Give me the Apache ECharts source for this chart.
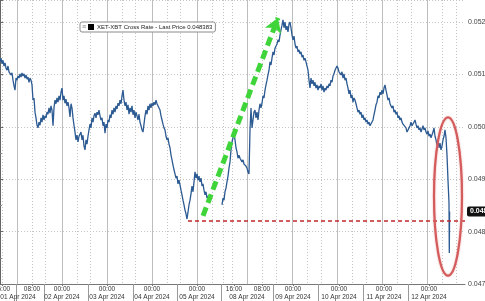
<!DOCTYPE html>
<html><head><meta charset="utf-8">
<script src="https://cdn.jsdelivr.net/npm/echarts@6/dist/echarts.min.js"></script>
<style>html,body{margin:0;padding:0;background:#fff;overflow:hidden}#c{width:485px;height:301px}</style>
</head><body><div id="c"></div><script>
// XET-XBT cross rate, one reading per chart time slot (slot 0 = left edge); null = no trading
const rate = [
0.05124,0.05131,0.05120,0.05127,0.05116,0.05122,0.05112,0.05108,0.05116,0.05105,
0.05108,0.05099,0.05103,0.05089,0.05078,0.05070,0.05093,0.05089,0.05097,0.05093,
0.05101,0.05095,0.05103,0.05097,0.05101,0.05093,0.05099,0.05091,0.05095,0.05085,
0.05093,0.05089,0.05080,0.05051,0.05055,0.05028,0.05017,0.05003,0.04998,0.05009,
0.05003,0.05017,0.05009,0.05023,0.05013,0.05021,0.05017,0.05028,0.05024,0.05036,
0.05026,0.05040,0.05032,0.05002,0.05036,0.05051,0.05044,0.05055,0.05047,0.05059,
0.05051,0.05066,0.05074,0.05051,0.05059,0.05045,0.05053,0.05040,0.05047,0.05036,
0.05019,0.05044,0.05036,0.05017,0.05003,0.04990,0.04975,0.04984,0.04971,0.04982,
0.04979,0.04990,0.04975,0.04984,0.04963,0.04956,0.04975,0.04967,0.04982,0.04994,
0.05005,0.04998,0.05017,0.05009,0.05021,0.05026,0.05017,0.05028,0.05023,0.05032,
0.05021,0.05013,0.05017,0.05002,0.05009,0.04988,0.05005,0.04998,0.05013,0.05009,
0.05023,0.05017,0.05032,0.05024,0.05036,0.05028,0.05040,0.05034,0.05045,0.05040,
0.05051,0.05044,0.05059,0.05070,0.05051,0.05040,0.05047,0.05032,0.05042,0.05024,
0.05036,0.05028,0.05040,0.05023,0.05032,0.05017,0.05028,0.05021,0.05013,0.05024,
0.05009,0.05002,0.04994,0.04990,0.05005,0.05021,0.05032,0.05024,0.05040,0.05032,
0.05044,0.05036,0.05045,0.05040,0.05047,0.05042,0.05051,0.05044,0.05047,0.05036,
0.05032,0.05021,0.05013,0.05005,0.04998,0.04994,0.04982,0.04975,0.04979,0.04967,
0.04960,0.04946,0.04937,0.04927,0.04918,0.04910,0.04902,0.04906,0.04891,0.04898,
0.04889,0.04879,0.04870,0.04860,0.04851,0.04841,0.04834,0.04824,0.04837,0.04851,
0.04860,0.04872,0.04887,0.04876,0.04895,0.04914,0.04902,0.04910,0.04898,0.04906,
0.04895,0.04902,0.04887,0.04891,0.04879,0.04870,0.04876,0.04864,0.04868,0.04860,
null,null,null,null,null,null,null,null,null,null,
null,null,0.04851,0.04864,0.04860,0.04876,0.04883,0.04895,0.04906,0.04921,
0.04933,0.04956,0.04971,0.04979,0.04984,0.04975,0.04960,0.04952,0.04940,0.04946,
0.04940,0.04942,0.04933,0.04937,0.04929,0.04931,0.04925,0.04921,0.04914,0.04910,
0.04994,0.05036,0.04998,0.05013,0.05028,0.05032,0.05017,0.05028,0.05013,0.05032,
0.05044,0.05036,0.05045,0.05059,0.05055,0.05070,0.05080,0.05089,0.05099,0.05108,
0.05124,0.05118,0.05131,0.05143,0.05137,0.05150,0.05147,0.05158,0.05166,0.05162,
0.05175,0.05185,0.05194,0.05204,0.05189,0.05200,0.05185,0.05192,0.05181,0.05196,
0.05200,0.05189,0.05175,0.05166,0.05173,0.05158,0.05150,0.05154,0.05143,0.05147,
0.05139,0.05143,0.05133,0.05137,0.05127,0.05131,0.05124,0.05127,0.05108,0.05089,
0.05074,0.05093,0.05082,0.05089,0.05078,0.05085,0.05074,0.05080,0.05070,0.05078,
0.05074,0.05082,0.05070,0.05078,0.05066,0.05074,0.05070,0.05078,0.05074,0.05082,
0.05078,0.05089,0.05085,0.05097,0.05101,0.05108,0.05105,0.05116,0.05112,0.05105,
0.05108,0.05099,0.05105,0.05093,0.05101,0.05089,0.05093,0.05082,0.05074,0.05063,
0.05070,0.05055,0.05061,0.05047,0.05055,0.05051,0.05044,0.05036,0.05028,0.05032,
0.05024,0.05028,0.05017,0.05023,0.05013,0.05017,0.05009,0.05013,0.05005,0.05009,
0.05002,0.05005,0.05000,0.05013,0.05023,0.05032,0.05042,0.05047,0.05059,0.05055,
0.05066,0.05061,0.05070,0.05063,0.05074,0.05080,0.05070,0.05061,0.05051,0.05055,
0.05044,0.05047,0.05036,0.05040,0.05028,0.05032,0.05024,0.05028,0.05017,0.05021,
0.05013,0.05017,0.05009,0.05005,0.05002,0.05005,0.04998,0.04990,0.04994,0.04998,
0.05002,0.05009,0.05002,0.05005,0.05009,0.05013,0.05005,0.04998,0.05002,0.04994,
0.04998,0.04990,0.04988,0.05002,0.04994,0.04998,0.04990,0.04986,0.04992,0.04982,
0.04986,0.04979,0.04982,0.04990,0.04998,0.04982,0.04975,0.04965,0.04975,0.04960,
0.04969,0.04956,0.04963,0.04975,0.04982,0.04994,0.04979,0.04946,0.04898,0.04855
];
// final minutes: plunge and last print
const tailSlots = [449.3, 449.6];
const tailRates = [0.04759, 0.048383];
const lastPrice = 0.048383;

const seriesName = 'XET-XBT Cross Rate';
const timeLabelSlots = [2, 32, 62, 107, 152, 197, 234, 262, 293, 339, 384, 429];
const timeLabels = ['16:00','08:00','00:00','00:00','00:00','00:00','16:00','08:00','00:00','00:00','00:00','00:00'];
const dateLabelSlots = [18, 62, 107, 152, 197, 247, 293, 339, 384, 429];
const dateLabels = ['01 Apr 2024','02 Apr 2024','03 Apr 2024','04 Apr 2024','05 Apr 2024','08 Apr 2024','09 Apr 2024','10 Apr 2024','11 Apr 2024','12 Apr 2024'];
const dayLineSlots = [17, 62, 107, 152, 197, 247, 292, 337, 382, 427];
const hourLineSlots = [2, 32, 45, 77, 90, 122, 135, 167, 180, 212, 223, 232, 262, 276, 307, 321, 352, 366, 397, 411, 442, 456];
const groupSepSlots = [16, 44, 88, 133, 177, 221, 273, 318, 363, 408];

// annotations
const lowLevel = 0.04820, lowStartSlot = 188;
const arrowFrom = [203, 0.04830], arrowTo = [278, 0.05208];
const ringLeft = 434, ringRight = 462, ringTop = 0.05018, ringBottom = 0.04716;

const X_MIN = 0, X_MAX = 465, Y_MIN = 0.047, Y_MAX = 0.05242;

const data = rate.map((v, i) => [i, v == null ? '-' : v]);
tailSlots.forEach((s, i) => data.push([s, tailRates[i]]));

const FONT = 'Liberation Sans, Arial, sans-serif';
function baseX(extra) {
  return Object.assign({ type: 'value', min: X_MIN, max: X_MAX, position: 'bottom',
    axisLine: { show: false }, axisTick: { show: false }, axisLabel: { show: false },
    splitLine: { show: false } }, extra);
}

const chart = echarts.init(document.getElementById('c'), null, { renderer: 'canvas' });
chart.setOption({
  animation: false,
  backgroundColor: '#fff',
  grid: { left: 0, right: 20, top: 0, bottom: 17, containLabel: false, outerBoundsMode: 'none' },
  legend: {
    left: 80, top: 22, orient: 'horizontal',
    data: [{ name: seriesName, itemStyle: { color: '#000' } }],
    icon: 'rect', itemWidth: 6, itemHeight: 6, itemGap: 2,
    backgroundColor: '#fff', borderColor: '#8a8a8a', borderWidth: 1, borderRadius: 2,
    padding: [2, 3, 2, 8],
    textStyle: { fontSize: 6, color: '#222', fontFamily: FONT, padding: [0, 0, 0, -2] },
    formatter: n => n + ' - Last Price ' + lastPrice.toFixed(6),
    selectedMode: false
  },
  xAxis: [
    baseX({
      axisLine: { show: true, lineStyle: { color: '#777', width: 1 } },
      axisTick: { show: true, customValues: timeLabelSlots, length: 2, lineStyle: { color: '#777' } },
      axisLabel: { show: true, customValues: timeLabelSlots, margin: 2, fontSize: 6.5, color: '#333', fontFamily: FONT,
        formatter: v => { const k = timeLabelSlots.indexOf(v); return k < 0 ? '' : timeLabels[k]; } }
    }),
    baseX({
      axisTick: { show: true, customValues: groupSepSlots, length: 17, lineStyle: { color: '#999' } },
      axisLabel: { show: true, customValues: dateLabelSlots, margin: 10, fontSize: 6.5, color: '#333', fontFamily: FONT,
        formatter: v => { const k = dateLabelSlots.indexOf(v); return k < 0 ? '' : dateLabels[k]; } }
    }),
    baseX({
      axisTick: { show: false, customValues: dayLineSlots },
      splitLine: { show: true, lineStyle: { color: '#bdbdbd', width: 1, type: 'solid' } }
    }),
    baseX({
      axisTick: { show: false, customValues: hourLineSlots },
      splitLine: { show: true, lineStyle: { color: '#c4c4c4', width: 1, type: [1, 2] } }
    })
  ],
  yAxis: {
    type: 'value', position: 'right', min: Y_MIN, max: Y_MAX, interval: 0.001,
    axisLine: { show: true, lineStyle: { color: '#666' } },
    axisTick: { show: true, length: 3, lineStyle: { color: '#666' } },
    minorTick: { show: true, splitNumber: 2, length: 2, lineStyle: { color: '#888' } },
    axisLabel: { fontSize: 7, color: '#444', margin: 3, fontFamily: FONT, showMaxLabel: false,
      formatter: v => (Math.abs(v * 1000 - Math.round(v * 1000)) < 1e-6 ? v.toFixed(4) : '') },
    splitLine: { show: true, lineStyle: { color: '#c4c4c4', type: [1, 2] } }
  },
  visualMap: {
    show: false, type: 'piecewise', dimension: 0, seriesIndex: 0,
    pieces: [
      { lt: 175, color: '#2c5a92' },
      { gte: 175, lt: 221, color: '#223e66' },
      { gte: 221, lt: 250, color: '#1b1b1b' },
      { gte: 250, color: '#2c5a92' }
    ]
  },
  series: [{
    name: seriesName, type: 'line', xAxisIndex: 0, yAxisIndex: 0,
    data: data, showSymbol: false, connectNulls: false, z: 3,
    lineStyle: { width: 1.3, color: '#2c5a92' },
    markLine: {
      silent: true, animation: false, symbol: 'none', z: 5,
      data: [
        [ { coord: [lowStartSlot, lowLevel], symbol: 'none',
            lineStyle: { color: '#c0282d', width: 1.6, type: [4, 3] }, label: { show: false } },
          { coord: [X_MAX, lowLevel], symbol: 'none' } ],
        [ { coord: arrowFrom, symbol: 'none',
            lineStyle: { color: '#3fd43a', width: 5, type: [9, 5] }, label: { show: false } },
          { coord: arrowTo, symbol: 'arrow', symbolSize: [13, 14] } ],
        [ { coord: [X_MAX - 1, lastPrice], symbol: 'none', lineStyle: { color: 'rgba(0,0,0,0)', width: 0 },
            label: { show: true, position: 'end', distance: 2, formatter: () => lastPrice.toFixed(5).slice(0, 7),
              backgroundColor: '#111', color: '#fff', fontSize: 7, fontWeight: 'bold', fontFamily: FONT,
              padding: [2, 3, 1, 3], borderRadius: 2 } },
          { coord: [X_MAX, lastPrice], symbol: 'none' } ]
      ]
    }
  }]
});

function drawRing() {
  const a = chart.convertToPixel({ xAxisIndex: 0, yAxisIndex: 0 }, [ringLeft, ringTop]);
  const b = chart.convertToPixel({ xAxisIndex: 0, yAxisIndex: 0 }, [ringRight, ringBottom]);
  const l = chart.convertToPixel({ xAxisIndex: 0, yAxisIndex: 0 }, [X_MIN + 80, Y_MAX]);
  chart.setOption({
    graphic: [
      { type: 'ellipse', z: 10, silent: true,
        shape: { cx: (a[0] + b[0]) / 2, cy: (a[1] + b[1]) / 2, rx: Math.abs(b[0] - a[0]) / 2, ry: Math.abs(b[1] - a[1]) / 2 },
        style: { fill: 'none', stroke: '#d45c5c', lineWidth: 2.2, shadowBlur: 2, shadowColor: 'rgba(220,120,120,0.6)' } },
      { type: 'text', z: 20, zlevel: 0, silent: true, left: l[0] + 2, top: 24,
        style: { text: '≡', fontSize: 7, fill: '#777', fontFamily: FONT } }
    ]
  });
}
drawRing();
</script></body></html>
